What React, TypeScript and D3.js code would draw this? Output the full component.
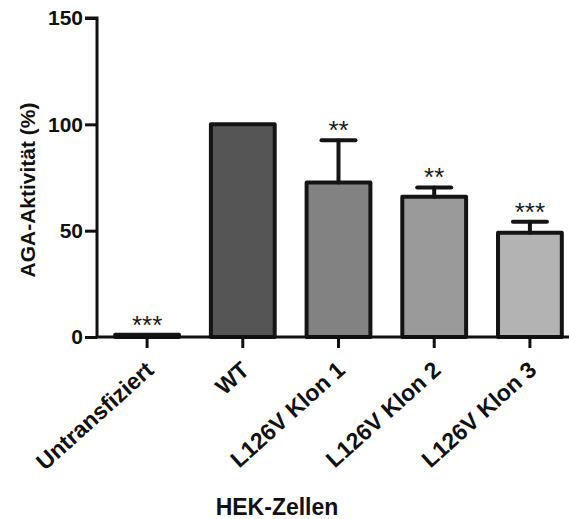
import * as d3 from 'd3';
import {useEffect, useRef} from 'react';

const categories = ['Untransfiziert', 'WT', 'L126V Klon 1', 'L126V Klon 2', 'L126V Klon 3'];
const means = [1, 100, 72.7, 66, 49];
const errors = [0, 0, 19.8, 4.3, 5.2];
const stars = ['***', '', '**', '**', '***'];
const fills = ['#222222', '#555555', '#828282', '#9a9a9a', '#b3b3b3'];
const yTicks = [0, 50, 100, 150];

export default function App() {
    const ref = useRef(null);
    const width = 569;
    const height = 519;
    const font = '"Liberation Sans", Arial, sans-serif';

    useEffect(() => {
        const svg = d3.select(ref.current);
        svg.selectAll('*').remove();

        const x0 = 97;
        const yScale = d3.scaleLinear().domain([0, 150]).range([337, 18]);
        const xScale = d3
            .scaleBand<string>()
            .domain(categories)
            .range([x0, 580])
            .paddingInner(1 / 3)
            .paddingOuter(0.19);

        const bw = xScale.bandwidth();

        // bars
        svg.append('g')
            .selectAll('rect')
            .data(categories)
            .join('rect')
            .attr('x', (d) => xScale(d)!)
            .attr('y', (_, i) => yScale(means[i]))
            .attr('width', bw)
            .attr('height', (_, i) => yScale(0) - yScale(means[i]))
            .attr('fill', (_, i) => fills[i])
            .attr('stroke', '#141414')
            .attr('stroke-width', 4)
            .attr('stroke-linejoin', 'round');

        // error bars
        const eg = svg.append('g').attr('stroke', '#141414').attr('stroke-width', 4).attr('stroke-linecap', 'round');
        categories.forEach((c, i) => {
            if (!errors[i]) return;
            const cx = xScale(c)! + bw / 2;
            eg.append('line')
                .attr('x1', cx)
                .attr('x2', cx)
                .attr('y1', yScale(means[i]))
                .attr('y2', yScale(means[i] + errors[i]));
            eg.append('line')
                .attr('x1', cx - 17)
                .attr('x2', cx + 17)
                .attr('y1', yScale(means[i] + errors[i]))
                .attr('y2', yScale(means[i] + errors[i]));
        });

        // significance stars
        svg.append('g')
            .selectAll('text')
            .data(categories)
            .join('text')
            .attr('x', (d) => xScale(d)! + bw / 2)
            .attr('y', (_, i) => yScale(means[i] + errors[i]) - 1)
            .attr('text-anchor', 'middle')
            .attr('font-family', font)
            .attr('font-size', 26)
            .attr('fill', '#1a1a1a')
            .text((_, i) => stars[i]);

        // y axis
        const yAxis = d3.axisLeft(yScale).tickValues(yTicks).tickSize(12).tickPadding(2).tickFormat(d3.format('d'));
        const ya = svg.append('g').attr('transform', `translate(${x0}, 0)`).call(yAxis);
        ya.select('.domain').attr('stroke', '#111').attr('stroke-width', 3).attr('d', `M-12,${yScale(150)}H0V${yScale(0)}`);
        ya.selectAll('.tick line').attr('stroke', '#111').attr('stroke-width', 3);
        ya.selectAll('.tick text')
            .attr('font-family', font)
            .attr('font-weight', 'bold')
            .attr('font-size', 21)
            .attr('fill', '#111');

        // x axis
        const xa = svg.append('g').attr('transform', `translate(0, ${yScale(0)})`).call(d3.axisBottom(xScale).tickSize(11).tickFormat(() => ''));
        xa.select('.domain').attr('stroke', '#111').attr('stroke-width', 3).attr('d', `M${x0},0H${width}`);
        xa.selectAll('.tick line').attr('stroke', '#111').attr('stroke-width', 3);

        svg.append('g')
            .selectAll('text')
            .data(categories)
            .join('text')
            .attr('transform', (d) => `translate(${xScale(d)! + bw / 2 + 8}, ${yScale(0) + 35}) rotate(-42)`)
            .attr('text-anchor', 'end')
            .attr('font-family', font)
            .attr('font-weight', 'bold')
            .attr('font-size', 23)
            .attr('fill', '#111')
            .text((d) => d);

        // titles
        svg.append('text')
            .attr('transform', `translate(35, 190) rotate(-90)`)
            .attr('text-anchor', 'middle')
            .attr('font-family', font)
            .attr('font-weight', 'bold')
            .attr('font-size', 21)
            .attr('fill', '#111')
            .text('AGA-Aktivität (%)');

        svg.append('text')
            .attr('x', 277)
            .attr('y', 515)
            .attr('text-anchor', 'middle')
            .attr('font-family', font)
            .attr('font-weight', 'bold')
            .attr('font-size', 23)
            .attr('fill', '#111')
            .text('HEK-Zellen');
    }, []);

    return (
        <svg
            ref={ref}
            width={width}
            height={height}
            style={{position: 'absolute', left: 0, top: 0, background: '#fff'}}
        ></svg>
    );
}
